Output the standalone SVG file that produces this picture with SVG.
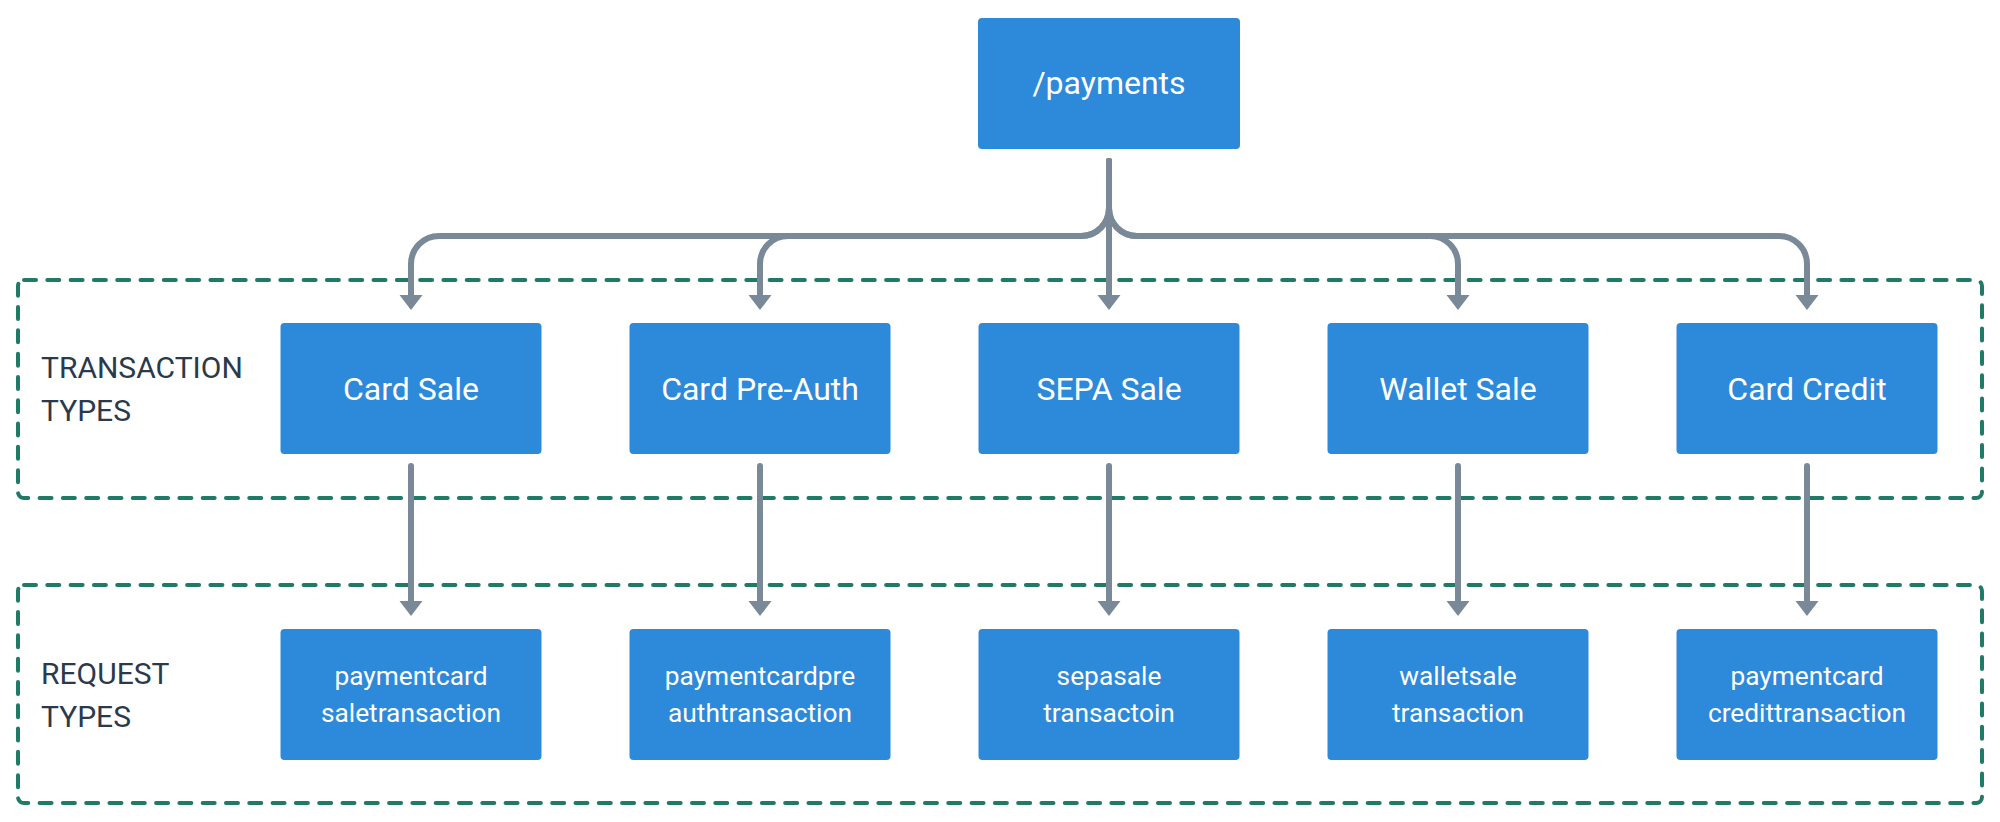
<svg xmlns="http://www.w3.org/2000/svg" width="2000" height="822" viewBox="0 0 2000 822">
<style>
.group{fill:none;stroke:#1f7a66;stroke-width:4;stroke-dasharray:12 11.3;stroke-linecap:round}
.node rect{fill:#2d89d9}
.node text{fill:#ffffff;font-family:Roboto,"Liberation Sans",sans-serif;text-anchor:middle}
.t1{font-size:32px}
.t2{font-size:26.3px}
.lbl{fill:#2b3a4b;font-family:Roboto,"Liberation Sans",sans-serif;font-size:30px}
.conn path{fill:none;stroke:#7a8997;stroke-width:6;stroke-linecap:round;stroke-linejoin:round}
</style>
<defs>
<marker id="arr" markerUnits="userSpaceOnUse" markerWidth="16" markerHeight="24" viewBox="0 -12 16 24" refX="0" refY="0" orient="auto">
<path d="M0,-11.5 L15,0 L0,11.5 Z" fill="#7a8997"/>
</marker>
</defs>
<rect width="2000" height="822" fill="#ffffff"/>
<g id="groups">
<rect class="group" x="18" y="280" width="1964" height="218" rx="6"/>
<rect class="group" x="18" y="585" width="1964" height="218" rx="6"/>
<text class="lbl" x="41" y="378">TRANSACTION</text>
<text class="lbl" x="41" y="421">TYPES</text>
<text class="lbl" x="41" y="684">REQUEST</text>
<text class="lbl" x="41" y="727">TYPES</text>
</g>
<g id="connectors" class="conn">
<path d="M1109,161 V295" marker-end="url(#arr)"/>
<path d="M1109,161 V208 A28,28 0 0 1 1081,236 H439 A28,28 0 0 0 411,264 V295" marker-end="url(#arr)"/>
<path d="M1109,161 V208 A28,28 0 0 1 1081,236 H788 A28,28 0 0 0 760,264 V295" marker-end="url(#arr)"/>
<path d="M1109,161 V208 A28,28 0 0 0 1137,236 H1430 A28,28 0 0 1 1458,264 V295" marker-end="url(#arr)"/>
<path d="M1109,161 V208 A28,28 0 0 0 1137,236 H1779 A28,28 0 0 1 1807,264 V295" marker-end="url(#arr)"/>
<path d="M411,466 V601" marker-end="url(#arr)"/>
<path d="M760,466 V601" marker-end="url(#arr)"/>
<path d="M1109,466 V601" marker-end="url(#arr)"/>
<path d="M1458,466 V601" marker-end="url(#arr)"/>
<path d="M1807,466 V601" marker-end="url(#arr)"/>
</g>
<g id="payments" class="node"><rect x="978" y="18" width="262" height="131" rx="4"/><text class="t1" x="1109" y="94">/payments</text></g>
<g id="card-sale" class="node"><rect x="280.5" y="323" width="261" height="131" rx="4"/><text class="t1" x="411" y="400">Card Sale</text></g>
<g id="card-preauth" class="node"><rect x="629.5" y="323" width="261" height="131" rx="4"/><text class="t1" x="760" y="400">Card Pre-Auth</text></g>
<g id="sepa-sale" class="node"><rect x="978.5" y="323" width="261" height="131" rx="4"/><text class="t1" x="1109" y="400">SEPA Sale</text></g>
<g id="wallet-sale" class="node"><rect x="1327.5" y="323" width="261" height="131" rx="4"/><text class="t1" x="1458" y="400">Wallet Sale</text></g>
<g id="card-credit" class="node"><rect x="1676.5" y="323" width="261" height="131" rx="4"/><text class="t1" x="1807" y="400">Card Credit</text></g>
<g id="req-sale" class="node"><rect x="280.5" y="629" width="261" height="131" rx="4"/><text class="t2" x="411" y="685">paymentcard</text><text class="t2" x="411" y="722">saletransaction</text></g>
<g id="req-preauth" class="node"><rect x="629.5" y="629" width="261" height="131" rx="4"/><text class="t2" x="760" y="685">paymentcardpre</text><text class="t2" x="760" y="722">authtransaction</text></g>
<g id="req-sepa" class="node"><rect x="978.5" y="629" width="261" height="131" rx="4"/><text class="t2" x="1109" y="685">sepasale</text><text class="t2" x="1109" y="722">transactoin</text></g>
<g id="req-wallet" class="node"><rect x="1327.5" y="629" width="261" height="131" rx="4"/><text class="t2" x="1458" y="685">walletsale</text><text class="t2" x="1458" y="722">transaction</text></g>
<g id="req-credit" class="node"><rect x="1676.5" y="629" width="261" height="131" rx="4"/><text class="t2" x="1807" y="685">paymentcard</text><text class="t2" x="1807" y="722">credittransaction</text></g>
</svg>
